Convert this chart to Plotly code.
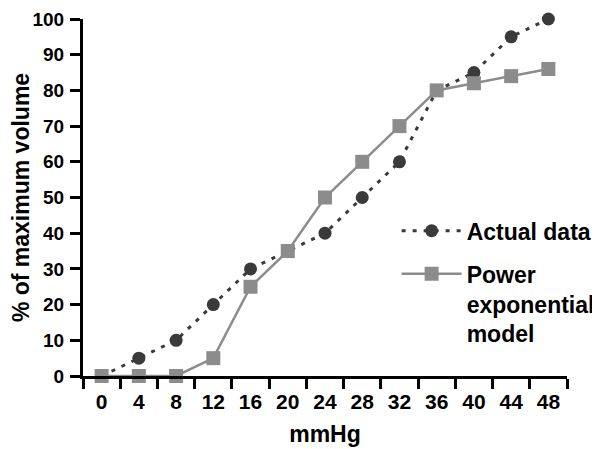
import plotly.graph_objects as go

pressure = ["0", "4", "8", "12", "16", "20", "24", "28", "32", "36", "40", "44", "48"]
actual = [0, 5, 10, 20, 30, 35, 40, 50, 60, 80, 85, 95, 100]
model = [0, 0, 0, 5, 25, 35, 50, 60, 70, 80, 82, 84, 86]
y_ticks = [0, 10, 20, 30, 40, 50, 60, 70, 80, 90, 100]

FONT = "Liberation Sans"
DARK = "#3a3a3a"
GREY = "#8c8c8c"

fig = go.Figure()
fig.add_trace(go.Scatter(
    x=pressure, y=actual, name="Actual data", mode="lines+markers",
    legendgroup="a",
    line=dict(color=DARK, width=3, dash="4px,7px"),
    marker=dict(symbol="circle", size=13, color=DARK),
    cliponaxis=False,
))
fig.add_trace(go.Scatter(
    x=pressure, y=model, name="Power<br>exponential<br>model", mode="lines+markers",
    legendgroup="b",
    line=dict(color=GREY, width=2.5),
    marker=dict(symbol="square", size=14, color=GREY),
    cliponaxis=False,
))

# page body has an 8px margin, so the figure is sized and offset to fit
fig.update_layout(
    width=592, height=441,
    margin=dict(l=75, r=33, t=11, b=73, autoexpand=False),
    paper_bgcolor="white", plot_bgcolor="white",
    font=dict(family=FONT, size=20, color="black"),
    legend=dict(
        x=0.648, xanchor="left", y=0.467, yanchor="top",
        bgcolor="rgba(0,0,0,0)", itemwidth=60, valign="top",
        traceorder="grouped", tracegroupgap=10,
        font=dict(family=FONT, size=23, color="black", weight="bold"),
    ),
    xaxis=dict(
        type="category", categoryorder="array", categoryarray=pressure,
        range=[-0.5, 12.5], tickson="boundaries", automargin=False,
        showline=True, linecolor="black", linewidth=3,
        ticks="outside", ticklen=10, tickwidth=2.5, tickcolor="black",
        showgrid=False, zeroline=False,
        tickfont=dict(family=FONT, size=21, color="black", weight="bold"),
        ticklabelstandoff=5, ticklabeloverflow="allow",
        title=dict(text="mmHg", standoff=14,
                   font=dict(family=FONT, size=23, color="black", weight="bold")),
    ),
    yaxis=dict(
        range=[0, 100], tickvals=y_ticks, automargin=False,
        showline=True, linecolor="black", linewidth=3,
        ticks="outside", ticklen=10, tickwidth=2.5, tickcolor="black",
        showgrid=False, zeroline=False,
        tickfont=dict(family=FONT, size=19, color="black", weight="bold"),
        ticklabelstandoff=2, ticklabeloverflow="allow",
        title=dict(text="% of maximum volume", standoff=11,
                   font=dict(family=FONT, size=23, color="black", weight="bold")),
    ),
    showlegend=True,
)

fig.write_html("out.html")
